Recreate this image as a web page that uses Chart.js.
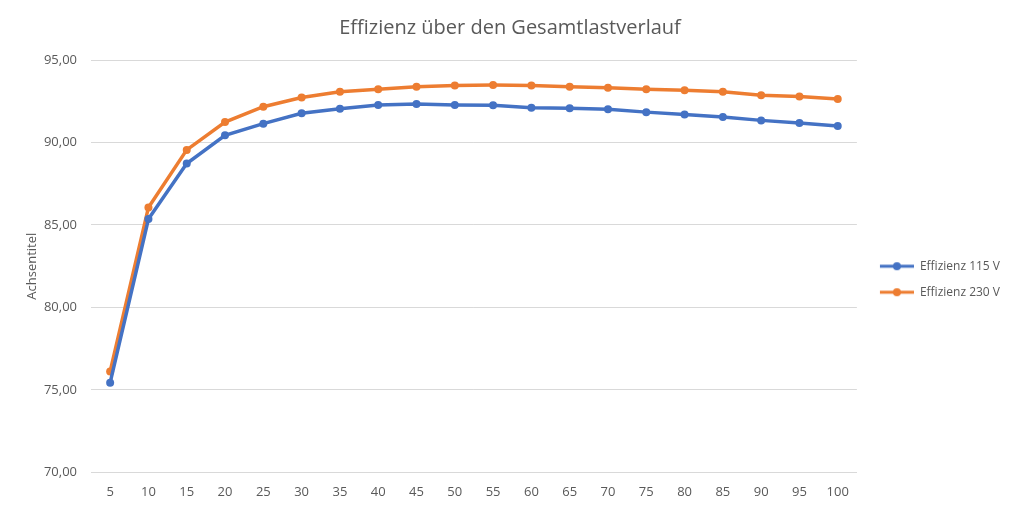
<!DOCTYPE html>
<html>
<head>
<meta charset="utf-8">
<script src="https://cdn.jsdelivr.net/npm/chart.js@4/dist/chart.umd.min.js"></script>
<style>
  html, body { margin: 0; padding: 0; background: #fff; }
  #wrap { width: 1020px; height: 512px; }
</style>
</head>
<body>
<div id="wrap"><canvas id="effChart" width="1020" height="512"></canvas></div>
<script>
// Load points (percent of full load)
const loadSteps = ['5', '10', '15', '20', '25', '30', '35', '40', '45', '50',
                   '55', '60', '65', '70', '75', '80', '85', '90', '95', '100'];

// Efficiency values
const eff115 = [75.44, 85.36, 88.72, 90.44, 91.14, 91.77, 92.05, 92.27, 92.33, 92.27,
                92.25, 92.11, 92.07, 92.01, 91.84, 91.69, 91.55, 91.34, 91.18, 91.00];
const eff230 = [76.12, 86.06, 89.55, 91.24, 92.17, 92.73, 93.08, 93.22, 93.38, 93.46,
                93.48, 93.46, 93.38, 93.32, 93.22, 93.16, 93.08, 92.87, 92.78, 92.63];

const yTicks = [70, 75, 80, 85, 90, 95];

const textColor = '#595959';
const fontFamily = '"Open Sans", "Noto Sans", sans-serif';

// Small line-with-dot marker for the legend, like the Excel one
// (left margin of 9px keeps the legend a bit off the plot)
function legendMarker(color) {
    const c = document.createElement('canvas');
    c.width = 43;
    c.height = 10;
    const ctx = c.getContext('2d');
    ctx.strokeStyle = color;
    ctx.lineWidth = 3;
    ctx.beginPath();
    ctx.moveTo(9, 5);
    ctx.lineTo(43, 5);
    ctx.stroke();
    ctx.fillStyle = color;
    ctx.beginPath();
    ctx.arc(26, 5, 4, 0, Math.PI * 2);
    ctx.fill();
    return c;
}

new Chart(document.getElementById('effChart'), {
    type: 'line',
    data: {
        labels: loadSteps,
        datasets: [{
            label: 'Effizienz 115 V',
            data: eff115,
            borderColor: '#4472C4',
            backgroundColor: '#4472C4',
            borderWidth: 3.5,
            pointRadius: 4,
            pointBorderWidth: 0,
            tension: 0
        }, {
            label: 'Effizienz 230 V',
            data: eff230,
            borderColor: '#ED7D31',
            backgroundColor: '#ED7D31',
            borderWidth: 3.5,
            pointRadius: 4,
            pointBorderWidth: 0,
            tension: 0
        }]
    },
    options: {
        responsive: false,
        animation: false,
        layout: { padding: { left: 10, right: 10, top: 16, bottom: 0 } },
        plugins: {
            title: {
                display: true,
                text: 'Effizienz über den Gesamtlastverlauf',
                color: textColor,
                font: { family: fontFamily, size: 20, weight: 'normal' },
                padding: { top: 0, bottom: 20 }
            },
            legend: {
                position: 'right',
                title: {
                    display: true,
                    text: ' ',
                    font: { size: 12 },
                    padding: 8
                },
                labels: {
                    color: textColor,
                    font: { family: fontFamily, size: 12 },
                    usePointStyle: true,
                    pointStyleWidth: 43,
                    padding: 14,
                    generateLabels: function (chart) {
                        return chart.data.datasets.map((ds, i) => ({
                            text: ds.label,
                            pointStyle: legendMarker(ds.borderColor),
                            fillStyle: ds.borderColor,
                            strokeStyle: ds.borderColor,
                            lineWidth: 0,
                            fontColor: textColor,
                            datasetIndex: i,
                            hidden: false
                        }));
                    }
                }
            },
            tooltip: { enabled: false }
        },
        scales: {
            x: {
                offset: true,
                grid: { display: false, drawTicks: false },
                border: { display: true, color: '#d9d9d9' },
                ticks: {
                    color: textColor,
                    font: { family: fontFamily, size: 13 },
                    padding: 12,
                    maxRotation: 0
                }
            },
            y: {
                min: 70,
                max: 95,
                afterBuildTicks: function (axis) {
                    axis.ticks = yTicks.map(v => ({ value: v }));
                },
                afterFit: function (axis) {
                    axis.width = 81;
                },
                grid: { color: '#d9d9d9', drawTicks: false },
                border: { display: false },
                title: {
                    display: true,
                    text: 'Achsentitel',
                    color: textColor,
                    font: { family: fontFamily, size: 13 },
                    padding: { top: 14, bottom: 6 }
                },
                ticks: {
                    color: textColor,
                    font: { family: fontFamily, size: 13 },
                    padding: 14,
                    callback: v => v.toFixed(2).replace('.', ',')
                }
            }
        }
    }
});
</script>
</body>
</html>
